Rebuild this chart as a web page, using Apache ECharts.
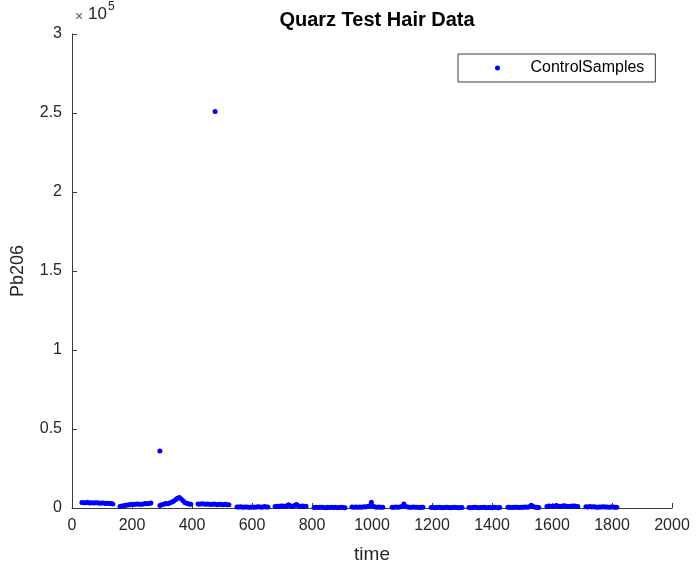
<!DOCTYPE html>
<html>
<head>
<meta charset="utf-8">
<script src="https://cdn.jsdelivr.net/npm/echarts@6/dist/echarts.min.js"></script>
<style>html,body{margin:0;padding:0;background:#fff}#c{width:697px;height:569px}</style>
</head>
<body>
<div id="c"></div>
<script>
var FONT = '"Liberation Sans", Arial, Helvetica, sans-serif';
var titleText = 'Quarz Test Hair Data';
var seriesName = 'ControlSamples';
var xTicks = [0, 200, 400, 600, 800, 1000, 1200, 1400, 1600, 1800, 2000];
var yTickLabels = ['0', '0.5', '1', '1.5', '2', '2.5', '3'];

var time = [
  33,39,46,52,59,65,72,78,85,91,98,104,111,117,124,130,136,
  160,166,173,179,186,192,199,205,212,218,225,231,238,244,251,257,263,
  293,299,306,312,319,325,332,338,345,351,358,364,371,377,384,390,396,
  420,426,433,439,446,452,459,465,472,478,485,491,498,504,511,517,523,
  550,556,563,569,576,582,589,595,602,608,615,621,628,634,641,647,653,
  677,683,690,696,703,709,716,722,729,735,742,748,755,761,768,774,780,
  807,813,820,826,833,839,846,852,859,865,872,878,885,891,898,904,910,
  933,939,946,952,959,965,972,978,985,991,998,1004,1011,1017,1024,1030,1036,
  1067,1073,1080,1086,1093,1099,1106,1112,1119,1125,1132,1138,1145,1151,1158,1164,1170,
  1197,1203,1210,1216,1223,1229,1236,1242,1249,1255,1262,1268,1275,1281,1288,1294,1300,
  1323,1329,1336,1342,1349,1355,1362,1368,1375,1381,1388,1394,1401,1407,1414,1420,1426,
  1453,1459,1466,1472,1479,1485,1492,1498,1505,1511,1518,1524,1531,1537,1544,1550,1556,
  1583,1589,1596,1602,1609,1615,1622,1628,1635,1641,1648,1654,1661,1667,1674,1680,1686,
  1713,1719,1726,1732,1739,1745,1752,1758,1765,1771,1778,1784,1791,1797,1804,1810,1816,
  293, 477
];
var pb206 = [
  3500,3300,3400,3600,3200,3300,3100,3400,3300,3000,3200,3100,2900,3000,2800,2900,2600,
  900,1200,1500,1800,1900,2100,2300,2200,2400,2600,2400,2300,2500,2800,2700,2900,3100,
  1600,2000,2300,2900,2700,3200,3700,4300,5300,6200,6600,5700,4400,3300,2800,2500,2400,
  2600,2400,2700,2500,2300,2600,2400,2200,2500,2300,2100,2400,2200,2000,2300,2100,2000,
  700,600,800,500,600,700,500,400,600,500,700,800,600,500,900,700,600,
  900,1100,1000,1300,1200,1000,1400,2100,1300,1100,1600,2200,1400,1000,1200,900,1100,
  300,400,300,500,400,300,200,400,300,500,300,400,200,300,400,300,200,
  600,500,700,400,600,500,800,600,900,1200,3600,1100,700,500,600,400,500,
  500,400,600,500,700,1000,2600,900,600,500,400,600,500,400,300,500,400,
  300,400,200,300,400,300,200,300,400,300,200,300,400,300,200,300,300,
  300,200,300,400,300,200,300,300,400,200,300,300,200,400,300,200,300,
  400,500,300,400,500,400,300,500,400,600,500,800,1800,900,500,400,300,
  1000,1200,1100,900,1300,1600,1100,1000,1200,1400,1100,900,1000,1200,1300,1100,1000,
  800,700,900,600,800,700,500,700,600,800,700,600,500,700,600,400,500,
  36000, 251000
];

var points = time.map(function (t, i) { return [t, pb206[i]]; });
var axisColor = '#3a3a3a';
var labelColor = '#262626';

var chart = echarts.init(document.getElementById('c'), null, {renderer: 'canvas'});
chart.setOption({
  animation: false,
  backgroundColor: '#fff',
  textStyle: {fontFamily: FONT},
  grid: {left: 72, right: 25, top: 34, bottom: 60, containLabel: false},
  title: {
    text: titleText, left: 372, top: 5, textAlign: 'center',
    textStyle: {fontFamily: FONT, fontSize: 20, fontWeight: 'bold', color: '#000'}
  },
  legend: {
    data: [seriesName], left: 458, top: 54, icon: 'circle',
    itemWidth: 56, itemHeight: 5, padding: [6, 11, 6, 37],
    borderColor: axisColor, borderWidth: 1, borderRadius: 0,
    backgroundColor: '#fff',
    textStyle: {fontFamily: FONT, fontSize: 16, color: '#000'}
  },
  xAxis: {
    type: 'value', min: xTicks[0], max: xTicks[xTicks.length - 1], interval: 200,
    name: 'time', nameLocation: 'middle', nameGap: 37,
    nameTextStyle: {fontFamily: FONT, fontSize: 19, color: labelColor},
    axisLine: {show: true, onZero: false, lineStyle: {color: axisColor, width: 1}},
    axisTick: {show: true, inside: true, length: 5, lineStyle: {color: axisColor}},
    axisLabel: {fontFamily: FONT, fontSize: 16, color: labelColor, margin: 10,
      formatter: function (v) { return String(v); }},
    splitLine: {show: false}
  },
  yAxis: {
    type: 'value', min: 0, max: 300000, interval: 50000,
    name: 'Pb206', nameLocation: 'middle', nameGap: 45,
    nameTextStyle: {fontFamily: FONT, fontSize: 18, color: labelColor},
    axisLine: {show: true, onZero: false, lineStyle: {color: axisColor, width: 1}},
    axisTick: {show: true, inside: true, length: 5, lineStyle: {color: axisColor}},
    axisLabel: {fontFamily: FONT, fontSize: 16, color: labelColor, margin: 10,
      formatter: function (v) { return yTickLabels[Math.round(v / 50000)]; }},
    splitLine: {show: false}
  },
  graphic: [
    {type: 'text', left: 75, top: 10, style: {text: '\u00d7', fontFamily: FONT, fontSize: 14, fill: '#555'}},
    {type: 'text', left: 88, top: 6, style: {text: '10', fontFamily: FONT, fontSize: 17, fill: labelColor}},
    {type: 'text', left: 108, top: 1, style: {text: '5', fontFamily: FONT, fontSize: 12, fill: labelColor}}
  ],
  series: [{
    name: seriesName, type: 'scatter', data: points,
    symbol: 'circle', symbolSize: 5,
    itemStyle: {color: '#0000ff', opacity: 1},
    emphasis: {disabled: true}
  }]
});
</script>
</body>
</html>
